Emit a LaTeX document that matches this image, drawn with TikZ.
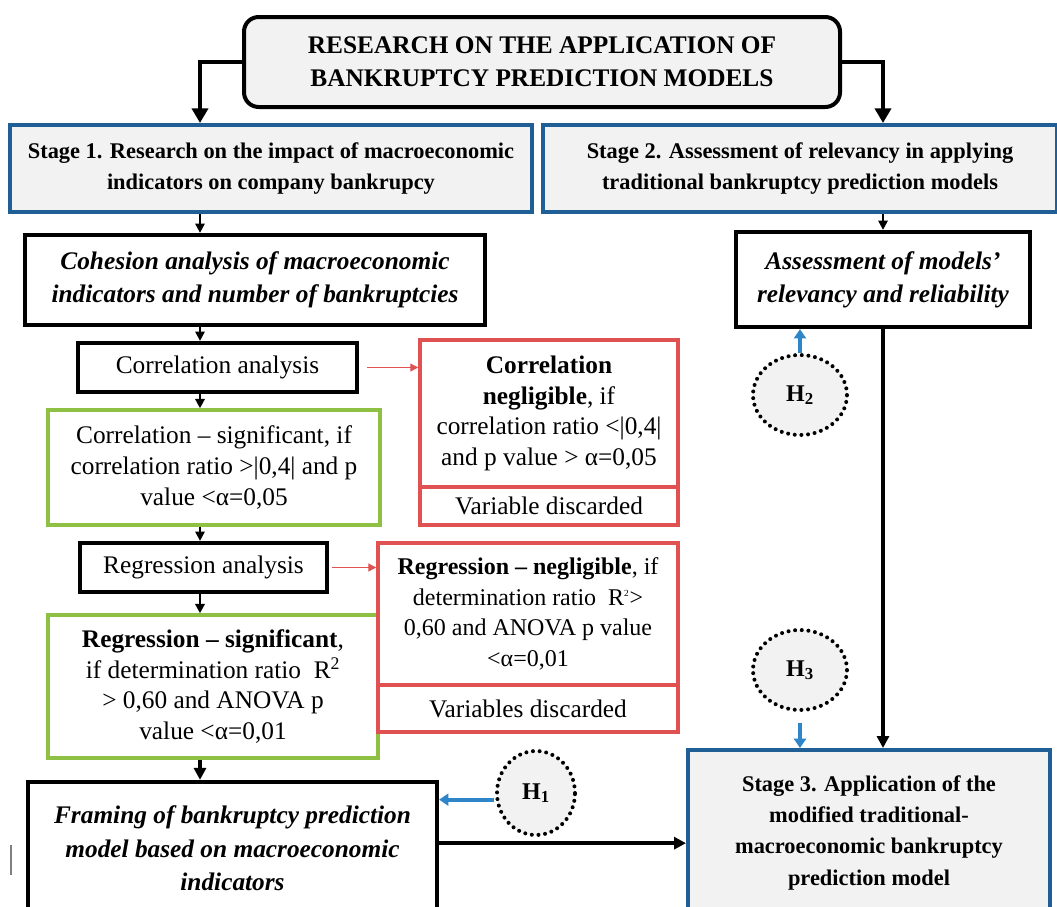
\documentclass[tikz,border=0pt]{standalone}
\usepackage{fontspec}
\setmainfont{Liberation Serif}
\usetikzlibrary{positioning,calc,arrows.meta,shapes.geometric}

\definecolor{stageblue}{HTML}{1F5F96}
\definecolor{boxgray}{HTML}{F2F2F2}
\definecolor{negred}{HTML}{E05252}
\definecolor{siggreen}{HTML}{8DC043}
\definecolor{hypblue}{HTML}{2E86C8}

\tikzset{
  txt/.style={font=\fontsize{19}{23}\selectfont},
  bftxt/.style={font=\bfseries\fontsize{16.8}{23.5}\selectfont},
  titlebox/.style={draw, line width=3pt, fill=boxgray, rounded corners=11pt, align=center, font=\bfseries\fontsize{19}{24.5}\selectfont},
  stagebox/.style={draw=stageblue, line width=3pt, fill=boxgray, align=center, bftxt},
  stepbox/.style={draw, line width=3.2pt, fill=white, align=center, font=\bfseries\itshape\fontsize{19}{25}\selectfont},
  anbox/.style={draw, line width=3.2pt, fill=white, align=center, txt},
  sigbox/.style={draw=siggreen, line width=2.6pt, fill=white, align=center, txt},
  negbox/.style={draw=negred, line width=2.6pt, fill=white, align=center, txt},
  hyp/.style={ellipse, draw, line width=3pt, line cap=round, dash pattern=on 0pt off 5pt, fill=boxgray, font=\bfseries\fontsize{18}{20}\selectfont},
  flow/.style={line width=1.6pt, -{Triangle[length=7pt,width=7pt]}},
  bigflow/.style={line width=3.2pt, -{Triangle[length=11pt,width=12pt]}},
  thickflow/.style={line width=2.8pt, -{Triangle[length=9pt,width=9pt]}},
  negflow/.style={negred, line width=0.9pt, -{Triangle[length=6pt,width=6pt]}},
  hypflow/.style={hypblue, line width=3pt, -{Triangle[length=7pt,width=9pt]}}
}

\begin{document}
\begin{tikzpicture}[x=0.75pt, y=-0.75pt]
\useasboundingbox (0,0) rectangle (1057,907);

% title and the two stages
\node[titlebox, minimum width=447pt, minimum height=67.5pt] (title) at (542,62)
  {RESEARCH ON THE APPLICATION OF\\BANKRUPTCY PREDICTION MODELS};
\node[stagebox, minimum width=391.5pt, minimum height=65.25pt] (stage1) at (271,168.5)
  {Stage 1. Research on the impact of macroeconomic\\indicators on company bankrupcy};
\node[stagebox, minimum width=385.5pt, minimum height=65.25pt] (stage2) at (800,168.5)
  {Stage 2. Assessment of relevancy in applying\\traditional bankruptcy prediction models};

% left column
\coordinate (lcol) at (200,0);
\node[stepbox, minimum width=345pt, minimum height=67.5pt] (cohesion) at (255,280)
  {Cohesion analysis of macroeconomic\\indicators and number of bankruptcies};
\node[anbox, minimum width=209.25pt, minimum height=36.75pt] (corranal) at (217.5,367.5)
  {Correlation analysis};
\node[sigbox, minimum width=249pt, minimum height=86.25pt] (corrsig) at (214,467.5)
  {Correlation -- significant, if\\correlation ratio >|0,4| and p\\value <α=0,05};
\node[negbox, minimum width=193.5pt, minimum height=110.25pt] (corrneg) at (549,413.5)
  {\textbf{Correlation}\\\textbf{negligible}, if\\correlation ratio <|0,4|\\and p value > α=0,05};
\node[negbox, minimum width=193.5pt, minimum height=28.5pt] (corrdisc) at (549,506)
  {Variable discarded};
\node[anbox, minimum width=185.25pt, minimum height=36.75pt] (reganal) at (203.5,567.5)
  {Regression analysis};
\node[sigbox, minimum width=247.5pt, minimum height=107.25pt] (regsig) at (213,686.5)
  {\textbf{Regression -- significant},\\if determination ratio~ R\textsuperscript{2}\\> 0,60 and ANOVA p\\value <α=0,01};
\node[negbox, minimum width=225pt, minimum height=106.5pt, font=\fontsize{18}{23}\selectfont] (regneg) at (528,614)
  {\textbf{Regression -- negligible}, if\\determination ratio~ R\textsuperscript{\scriptsize 2}>\\0,60 and ANOVA p value\\<α=0,01};
\node[negbox, minimum width=225pt, minimum height=35.25pt] (regdisc) at (528,708.5)
  {Variables discarded};
\node[stepbox, minimum width=306.75pt, minimum height=99.75pt] (framing) at (232.5,848.5)
  {Framing of bankruptcy prediction\\model based on macroeconomic\\indicators};

% right column
\node[stepbox, minimum width=220.5pt, minimum height=71.25pt] (assess) at (883,279.5)
  {Assessment of models’\\relevancy and reliability};
\node[stagebox, minimum width=271.5pt, minimum height=123.75pt] (stage3) at (869,832.5)
  {Stage 3. Application of the\\modified traditional-\\macroeconomic bankruptcy\\prediction model};

% hypotheses
\node[hyp, minimum width=58.5pt, minimum height=63pt] (h1) at (536,793) {H\textsubscript{1}};
\node[hyp, minimum width=70.5pt, minimum height=60pt] (h2) at (800,395) {H\textsubscript{2}};
\node[hyp, minimum width=70.5pt, minimum height=60pt] (h3) at (800,670) {H\textsubscript{3}};

\coordinate (fout) at ([yshift=4pt]framing.east);
\coordinate (h1out) at ([yshift=-5pt]h1.west);

% connectors
\draw[bigflow] (title.west) -| (stage1.north -| lcol);
\draw[bigflow] (title.east) -| (stage2.north -| assess);
\draw[flow] (stage1.south -| lcol) -- (cohesion.north -| lcol);
\draw[flow] (cohesion.south -| lcol) -- (corranal.north -| lcol);
\draw[flow] (corranal.south -| lcol) -- (corrsig.north -| lcol);
\draw[flow] (corrsig.south -| lcol) -- (reganal.north -| lcol);
\draw[flow] (reganal.south -| lcol) -- (regsig.north -| lcol);
\draw[thickflow] (regsig.south -| lcol) -- (framing.north -| lcol);
\draw[negflow, shorten <=6pt] (corranal.east) -- (corrneg.west |- corranal.east);
\draw[negflow, shorten <=2pt] (reganal.east) -- (regneg.west |- reganal.east);
\draw[flow] (stage2.south -| assess) -- (assess.north);
\draw[thickflow] (assess.south) -- (stage3.north -| assess);
\draw[thickflow] (fout) -- (stage3.west |- fout);
\draw[hypflow, shorten <=1pt] (h1out) -- (framing.east |- h1out);
\draw[hypflow] (h2.north) -- (assess.south -| h2.north);
\draw[hypflow, shorten <=8pt] (h3.south) -- (stage3.north -| h3.south);

\draw[gray, line width=1pt] (11,845) -- (11,875);
\end{tikzpicture}
\end{document}
